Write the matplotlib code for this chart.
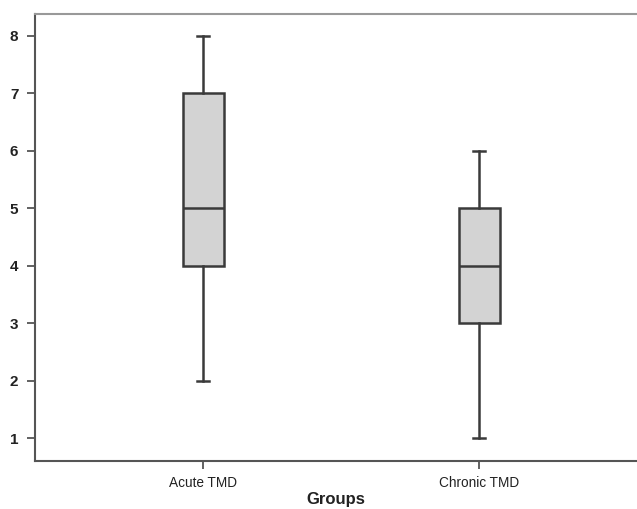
import matplotlib
matplotlib.use("Agg")
import matplotlib.pyplot as plt

groups = ["Acute TMD", "Chronic TMD"]
whisker_low = [2, 1]
q1 = [4, 3]
medians = [5, 4]
q3 = [7, 5]
whisker_high = [8, 6]
yticks = [1, 2, 3, 4, 5, 6, 7, 8]

plt.rcParams['font.family'] = ['Liberation Sans', 'DejaVu Sans']

fig = plt.figure(figsize=(6.37, 5.09), dpi=100)
ax = fig.add_axes([0.055, 0.0943, 0.945, 0.8782])

stats = []
for i in range(len(groups)):
    stats.append({"label": groups[i], "whislo": whisker_low[i], "q1": q1[i],
                  "med": medians[i], "q3": q3[i], "whishi": whisker_high[i]})

edge = "#3a3a3a"
ax.bxp(stats, positions=[1, 2], widths=0.149, showfliers=False, patch_artist=True,
       boxprops=dict(facecolor="#d3d3d3", edgecolor=edge, linewidth=1.8),
       medianprops=dict(color=edge, linewidth=1.8),
       whiskerprops=dict(color=edge, linewidth=1.8),
       capprops=dict(color=edge, linewidth=1.8),
       capwidths=0.045)

ax.set_xlim(0.391, 2.572)
ax.set_ylim(0.6, 8.38)
ax.set_yticks(yticks)
ax.set_yticklabels([str(v) for v in yticks], fontsize=11, fontweight="bold", color="#222222")
ax.set_xticks([1, 2])
ax.set_xticklabels(groups, fontsize=9.8, color="#222222")
ax.set_xlabel("Groups", fontsize=12, fontweight="bold", color="#222222", labelpad=1)

ax.spines["right"].set_visible(False)
ax.spines["top"].set_color("#999999")
ax.spines["top"].set_linewidth(1.5)
ax.spines["left"].set_color("#555555")
ax.spines["bottom"].set_color("#555555")
ax.spines["left"].set_linewidth(1.5)
ax.spines["bottom"].set_linewidth(1.5)
ax.tick_params(axis="y", direction="out", length=6, width=1.3, color="#555555", pad=6)
ax.tick_params(axis="x", direction="out", length=6, width=1.3, color="#555555", pad=5)

fig.savefig("out.png", dpi=100)
